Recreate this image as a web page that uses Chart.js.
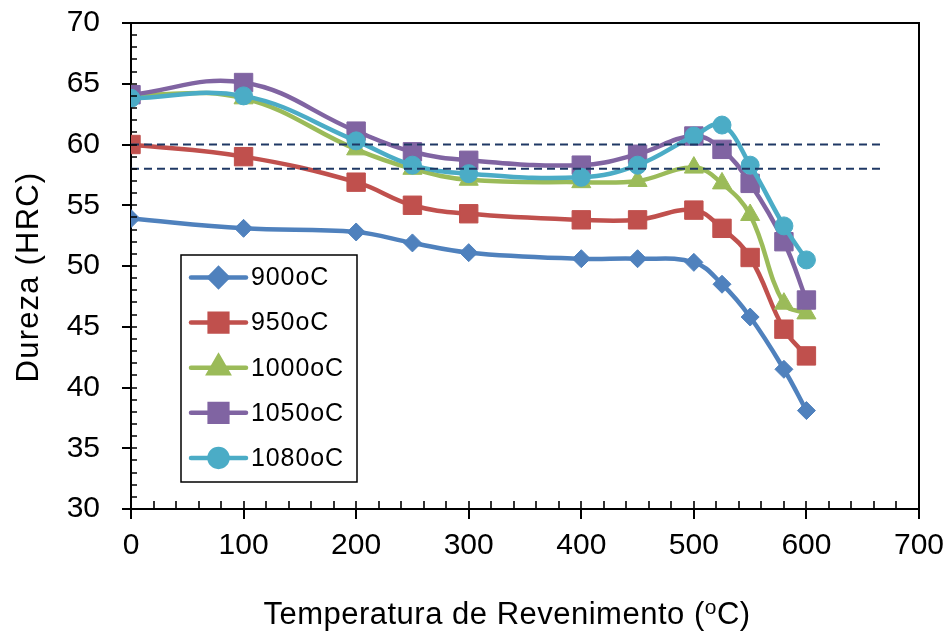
<!DOCTYPE html>
<html>
<head>
<meta charset="utf-8">
<script src="https://cdn.jsdelivr.net/npm/chart.js@4.4.1/dist/chart.umd.min.js"></script>
<style>
  html, body { margin: 0; padding: 0; background: #ffffff; }
  #wrap { width: 949px; height: 632px; position: relative; }
</style>
</head>
<body>
<div id="wrap"><canvas id="c" width="949" height="632"></canvas></div>
<script>
// ---- data ----
const temps = [0, 100, 200, 250, 300, 400, 450, 500, 525, 550, 580, 600];
const h900  = [53.9, 53.1, 52.8, 51.9, 51.1, 50.6, 50.6, 50.3, 48.5, 45.8, 41.5, 38.1];
const h950  = [60.0, 59.0, 56.9, 55.0, 54.3, 53.8, 53.8, 54.6, 53.1, 50.7, 44.8, 42.6];
const h1000 = [64.1, 63.8, 59.6, 58.0, 57.1, 56.9, 57.0, 58.1, 56.8, 54.2, 46.9, 46.1];
const h1050 = [64.1, 65.1, 61.1, 59.4, 58.7, 58.3, 59.2, 60.7, 59.6, 56.8, 52.0, 47.2];
const h1080 = [63.8, 64.0, 60.3, 58.3, 57.6, 57.3, 58.3, 60.7, 61.6, 58.3, 53.3, 50.5];
const seriesLabels = ['900oC', '950oC', '1000oC', '1050oC', '1080oC'];
const refLevels = [60, 58];
const refSpan = [0, 667];
const xTicks = [0, 100, 200, 300, 400, 500, 600, 700];
const yTicks = [30, 35, 40, 45, 50, 55, 60, 65, 70];
const xTitle = ['Temperatura de Revenimento (', 'o', 'C)'];
const yTitle = 'Dureza (HRC)';

// ---- styles ----
const FONT = "'Liberation Sans', Arial, sans-serif";
const colors = ['#4F81BD', '#C0504D', '#9BBB59', '#8064A2', '#4BACC6'];
const styles = [
  { pointStyle: 'rectRot', radius: 9 },
  { pointStyle: 'rect', radius: 13 },
  { pointStyle: 'triangle', radius: 11 },
  { pointStyle: 'rect', radius: 13 },
  { pointStyle: 'circle', radius: 9 }
];
const allSeries = [h900, h950, h1000, h1050, h1080];

const datasets = allSeries.map((vals, i) => ({
  label: seriesLabels[i],
  data: temps.map((t, k) => ({ x: t, y: vals[k] })),
  borderColor: colors[i],
  backgroundColor: colors[i],
  borderWidth: 4.5,
  tension: 0.4,
  pointStyle: styles[i].pointStyle,
  pointRadius: styles[i].radius,
  pointHoverRadius: styles[i].radius,
  pointBackgroundColor: colors[i],
  pointBorderColor: colors[i],
  pointBorderWidth: 1,
  order: 10 - i
}));
refLevels.forEach((lv) => {
  datasets.push({
    label: 'ref' + lv,
    data: refSpan.map((x) => ({ x: x, y: lv })),
    borderColor: '#1F3864',
    borderWidth: 2,
    borderDash: [8, 5],
    pointRadius: 0,
    tension: 0,
    order: 0
  });
});

const frameAndTicks = {
  id: 'frameAndTicks',
  afterDatasetsDraw(chart) {
    const ctx = chart.ctx;
    const a = chart.chartArea;
    const xs = chart.scales.x, ys = chart.scales.y;
    ctx.save();
    ctx.strokeStyle = '#000';
    ctx.lineWidth = 2;
    ctx.beginPath();
    ctx.moveTo(a.left, a.top); ctx.lineTo(a.right, a.top); ctx.lineTo(a.right, a.bottom);
    ctx.stroke();
    ctx.lineWidth = 1.6;
    ctx.beginPath();
    for (let v = xs.min; v <= xs.max + 1e-6; v += 20) {
      const px = Math.round(xs.getPixelForValue(v));
      ctx.moveTo(px, a.bottom); ctx.lineTo(px, a.bottom - 8);
    }
    for (let v = ys.min; v <= ys.max + 1e-6; v += 1) {
      const py = Math.round(ys.getPixelForValue(v));
      ctx.moveTo(a.left, py); ctx.lineTo(a.left + 6, py);
    }
    ctx.stroke();
    ctx.restore();
  },
  afterDraw(chart) {
    const ctx = chart.ctx;
    ctx.save();
    ctx.fillStyle = '#000';
    // y title
    ctx.font = '31px ' + FONT;
    ctx.letterSpacing = '1.2px';
    ctx.translate(29, 277);
    ctx.rotate(-Math.PI / 2);
    ctx.textAlign = 'center';
    ctx.textBaseline = 'middle';
    ctx.fillText(yTitle, 0, 0);
    ctx.restore();
    // x title with superscript
    ctx.save();
    ctx.fillStyle = '#000';
    ctx.textBaseline = 'alphabetic';
    ctx.textAlign = 'left';
    ctx.letterSpacing = '0.5px';
    const big = '31px ' + FONT, small = '21px ' + FONT;
    ctx.font = big; const w1 = ctx.measureText(xTitle[0]).width;
    ctx.font = small; const w2 = ctx.measureText(xTitle[1]).width;
    ctx.font = big; const w3 = ctx.measureText(xTitle[2]).width;
    let x0 = 507 - (w1 + w2 + w3) / 2;
    const base = 624;
    ctx.font = big; ctx.fillText(xTitle[0], x0, base); x0 += w1;
    ctx.font = small; ctx.fillText(xTitle[1], x0, base - 10); x0 += w2;
    ctx.font = big; ctx.fillText(xTitle[2], x0, base);
    ctx.restore();
    // legend
    ctx.save();
    ctx.fillStyle = '#fff';
    ctx.fillRect(181, 255, 176, 227);
    ctx.strokeStyle = '#000';
    ctx.lineWidth = 1.5;
    ctx.strokeRect(181, 255, 176, 227);
    for (let i = 0; i < seriesLabels.length; i++) {
      const y = 277.5 + i * 45.1;
      ctx.strokeStyle = colors[i];
      ctx.lineWidth = 4.5;
      ctx.lineCap = 'round';
      ctx.beginPath(); ctx.moveTo(191, y); ctx.lineTo(246, y); ctx.stroke();
      ctx.fillStyle = colors[i];
      Chart.helpers.drawPoint(ctx, {
        pointStyle: styles[i].pointStyle,
        radius: styles[i].pointStyle === 'rect' ? 12.5 : styles[i].radius,
        rotation: 0, borderWidth: 1
      }, 218.5, y);
      ctx.fill();
      ctx.fillStyle = '#000';
      ctx.font = '25px ' + FONT;
      ctx.letterSpacing = '0.9px';
      ctx.textAlign = 'left';
      ctx.textBaseline = 'middle';
      ctx.fillText(seriesLabels[i], 251, y + 1);
      ctx.letterSpacing = '0px';
    }
    ctx.restore();
  }
};

function zeroPad(s) { s.paddingTop = 0; s.paddingBottom = 0; s.paddingLeft = 0; s.paddingRight = 0; }

new Chart(document.getElementById('c'), {
  type: 'line',
  data: { datasets: datasets },
  options: {
    responsive: false,
    animation: false,
    events: [],
    layout: { padding: { top: 23, right: 30, left: 0, bottom: 0 } },
    plugins: { legend: { display: false }, tooltip: { enabled: false } },
    scales: {
      x: {
        type: 'linear', min: 0, max: 700,
        afterFit(s) { s.height = 123; zeroPad(s); },
        afterBuildTicks(s) { s.ticks = xTicks.map(v => ({ value: v })); },
        border: { display: true, color: '#000', width: 2 },
        grid: { display: true, drawOnChartArea: false, drawTicks: true, tickLength: 10, color: '#000', lineWidth: 2 },
        ticks: { color: '#000', font: { family: FONT, size: 30 }, padding: 9, maxRotation: 0 }
      },
      y: {
        type: 'linear', min: 30, max: 70,
        afterFit(s) { s.width = 131; zeroPad(s); },
        afterBuildTicks(s) { s.ticks = yTicks.map(v => ({ value: v })); },
        border: { display: true, color: '#000', width: 2 },
        grid: { display: true, drawOnChartArea: false, drawTicks: true, tickLength: 9, color: '#000', lineWidth: 2 },
        ticks: { color: '#000', font: { family: FONT, size: 30 }, padding: 22 }
      }
    }
  },
  plugins: [frameAndTicks]
});
</script>
</body>
</html>
